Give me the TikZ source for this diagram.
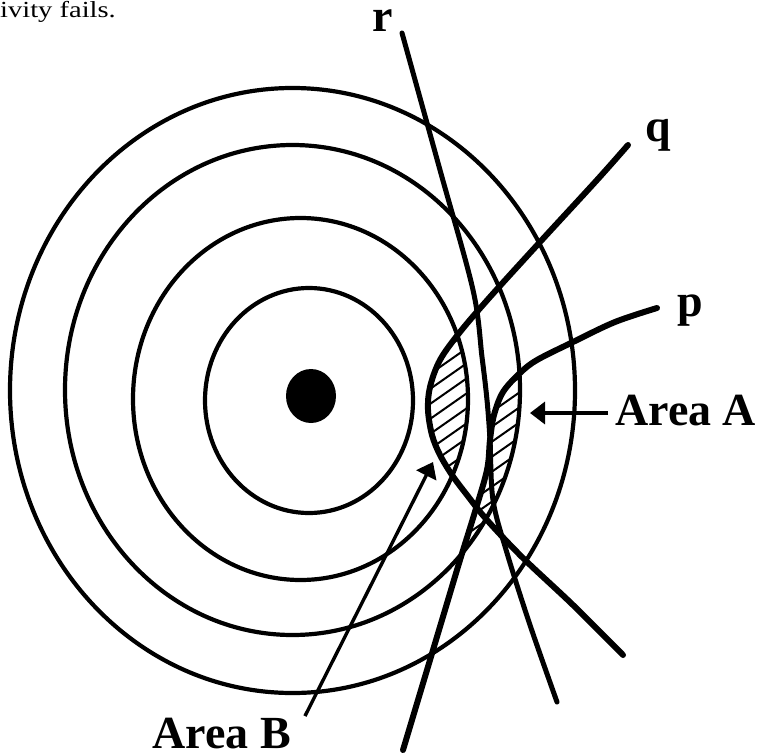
\documentclass[tikz,border=0pt]{standalone}
\usepackage{fontspec}
\setmainfont{Liberation Serif}
\usepackage{graphicx}
\usetikzlibrary{arrows.meta}
\begin{document}
\begin{tikzpicture}[x=1pt,y=-1pt,
  ring/.style={line width=4.2pt},
  curveline/.style={line width=6pt, line cap=round},
  rline/.style={line width=5pt, line cap=round},
  hatchline/.style={line width=2pt},
  pointer/.style={line width=3.4pt, -{Triangle[length=15pt,width=22pt]}},
  lbl/.style={font=\fontsize{46}{50}\selectfont\bfseries, inner sep=0pt},
  note/.style={font=\fontsize{23}{26}\selectfont, inner sep=0pt},
]
\useasboundingbox (0,0) rectangle (760,755);
\def\qpath{plot[smooth,tension=0.55] coordinates {(628,145) (597,180) (540,242) (490,297) (460,332) (440,360) (430,387) (428,410) (432,435) (440,455) (452,475) (467,495) (487,520) (523,558) (573,605) (623,655)}}
\def\ppath{plot[smooth,tension=0.55] coordinates {(657,308) (615,322) (573,342) (537,360) (520,373) (503,392) (494,415) (490,440) (487,470) (474,515) (460,560) (445,610) (430,660) (403,750)}}
\def\rpath{plot[smooth,tension=0.55] coordinates {(402,33) (440,170) (473,290) (482,357) (487,400) (490,440) (493,500) (507,553) (530,625) (557,702)}}

% hatched area B
\begin{scope}
  \clip (300.5,399) ellipse [x radius=167.5pt, y radius=181pt];
  \clip \qpath -- (800,655) -- (800,145) -- cycle;
  \foreach \k in {0,...,16} \draw[hatchline] (400,335+15*\k) -- ++(100,-70);
\end{scope}
% hatched area A
\begin{scope}
  \clip (292.5,390) ellipse [x radius=227.5pt, y radius=245pt];
  \clip \ppath -- (800,750) -- (800,308) -- cycle;
  \foreach \k in {0,...,16} \draw[hatchline] (470,352+15*\k) -- ++(100,-70);
\end{scope}

% rings
\draw[ring] (292.5,390.5) ellipse [x radius=282.5pt, y radius=302.5pt];
\draw[ring] (292.5,390) ellipse [x radius=227.5pt, y radius=245pt];
\draw[ring] (300.5,399) ellipse [x radius=167.5pt, y radius=181pt];
\draw[ring] (309,400.5) ellipse [x radius=104pt, y radius=112.5pt];
\fill (311,396) ellipse [x radius=25pt, y radius=27pt];

% curves
\draw[rline] \rpath;
\draw[curveline] \qpath;
\draw[curveline] \ppath;

% labels
\node[lbl, anchor=base west] (labR) at (372,31) {r};
\node[lbl, anchor=base west] (labQ) at (645,141) {q};
\node[lbl, anchor=base west] (labP) at (677,316) {p};
\node[lbl, anchor=base west] (labA) at (615,425) {Area A};
\node[lbl, anchor=base east] (labB) at (291,748) {Area B};
\node[note, anchor=base west] (topnote) at (0,17) {\scalebox{1.24}[1]{ivity fails.}};

% pointers
\coordinate (aStart) at (608,413);
\coordinate (aTip) at (530,413);
\coordinate (bStart) at (305,716);
\coordinate (bTip) at (433,462);
\draw[pointer] (aStart) -- (aTip);
\draw[pointer] (bStart) -- (bTip);
\end{tikzpicture}
\end{document}
